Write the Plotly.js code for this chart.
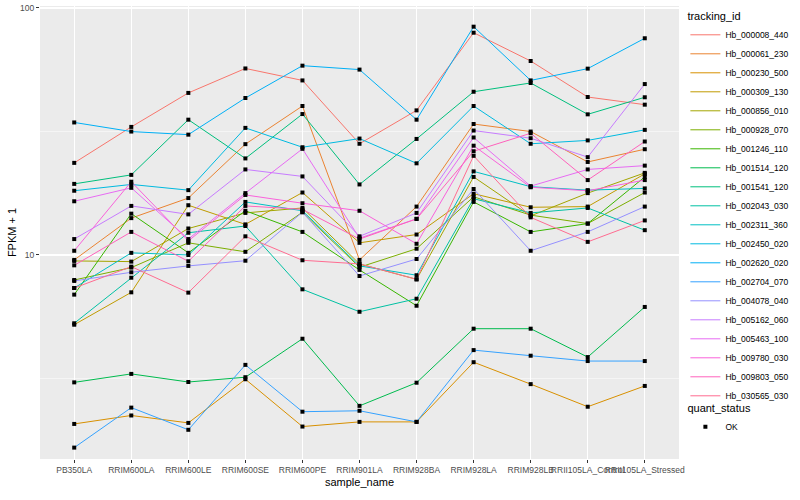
<!DOCTYPE html>
<html><head><meta charset="utf-8">
<script src="https://cdn.plot.ly/plotly-3.0.1.min.js"></script>
<style>body{margin:0;background:#fff}#chart{width:800px;height:500px}</style>
</head><body><div id="chart"></div>
<script>
const sampleNames = ["PB350LA","RRIM600LA","RRIM600LE","RRIM600SE","RRIM600PE","RRIM901LA","RRIM928BA","RRIM928LA","RRIM928LB","RRII105LA_Control","RRII105LA_Stressed"];

const Hb_000008_440 = [23.6, 33.0, 45.3, 56.9, 50.9, 28.2, 38.5, 79.4, 61.0, 43.6, 40.6];
const Hb_000061_230 = [9.55, 14.1, 17.0, 28.1, 40.1, 9.55, 15.7, 33.9, 31.6, 23.8, 26.8];
const Hb_000230_500 = [2.07, 2.24, 2.09, 3.14, 2.02, 2.11, 2.11, 3.68, 3.00, 2.43, 2.95];
const Hb_000309_130 = [5.22, 7.06, 15.9, 13.3, 17.9, 11.2, 12.1, 17.7, 15.6, 15.7, 21.3];
const Hb_000856_010 = [9.46, 9.40, 12.8, 14.8, 15.5, 9.20, 7.97, 20.7, 14.4, 17.8, 21.5];
const Hb_000928_070 = [7.92, 8.89, 11.2, 10.3, 14.9, 8.92, 10.6, 17.2, 14.5, 13.4, 17.9];
const Hb_001246_110 = [6.91, 14.7, 10.2, 15.1, 12.4, 8.7, 6.23, 16.4, 12.4, 13.4, 20.7];
const Hb_001514_120 = [3.05, 3.30, 3.06, 3.20, 4.58, 2.45, 3.04, 5.03, 5.03, 3.86, 6.16];
const Hb_001541_120 = [19.4, 21.1, 35.3, 24.6, 37.2, 19.3, 29.5, 45.8, 49.7, 37.1, 43.5];
const Hb_002043_030 = [5.29, 8.09, 12.3, 13.1, 7.26, 5.89, 6.65, 16.9, 14.8, 15.5, 12.6];
const Hb_002311_360 = [7.35, 10.2, 10.0, 16.4, 15.1, 9.03, 8.28, 21.8, 18.9, 18.3, 18.6];
const Hb_002450_020 = [18.2, 19.3, 18.3, 32.7, 27.3, 29.6, 23.5, 40.1, 28.2, 29.1, 32.1];
const Hb_002620_020 = [34.4, 31.6, 30.7, 43.2, 58.4, 56.3, 35.3, 84.0, 50.9, 56.8, 75.4];
const Hb_002704_070 = [1.66, 2.41, 1.96, 3.59, 2.32, 2.34, 2.11, 4.12, 3.91, 3.72, 3.72];
const Hb_004078_040 = [7.85, 8.51, 9.03, 9.48, 14.9, 8.22, 9.63, 18.5, 10.4, 12.4, 15.7];
const Hb_005162_060 = [11.6, 15.8, 14.6, 22.2, 20.8, 11.9, 14.8, 31.9, 29.7, 24.9, 49.2];
const Hb_005463_100 = [16.5, 18.7, 11.6, 17.8, 26.9, 11.7, 14.0, 29.9, 19.0, 22.2, 23.0];
const Hb_009780_030 = [10.4, 19.8, 11.4, 17.5, 16.2, 15.1, 11.1, 27.7, 18.8, 18.2, 20.1];
const Hb_009803_050 = [9.08, 12.4, 9.43, 15.8, 15.3, 11.6, 14.0, 26.3, 31.1, 20.1, 28.8];
const Hb_030565_030 = [7.35, 8.97, 7.04, 11.9, 9.52, 9.20, 7.97, 25.2, 14.2, 11.3, 13.8];

const trackingIds = ["Hb_000008_440","Hb_000061_230","Hb_000230_500","Hb_000309_130","Hb_000856_010","Hb_000928_070","Hb_001246_110","Hb_001514_120","Hb_001541_120","Hb_002043_030","Hb_002311_360","Hb_002450_020","Hb_002620_020","Hb_002704_070","Hb_004078_040","Hb_005162_060","Hb_005463_100","Hb_009780_030","Hb_009803_050","Hb_030565_030"];
const seriesValues = [Hb_000008_440,Hb_000061_230,Hb_000230_500,Hb_000309_130,Hb_000856_010,Hb_000928_070,Hb_001246_110,Hb_001514_120,Hb_001541_120,Hb_002043_030,Hb_002311_360,Hb_002450_020,Hb_002620_020,Hb_002704_070,Hb_004078_040,Hb_005162_060,Hb_005463_100,Hb_009780_030,Hb_009803_050,Hb_030565_030];
const seriesColors = ["#F8766D","#EA8331","#D89000","#C09B00","#A3A500","#7CAE00","#39B600","#00BB4E","#00BF7D","#00C1A3","#00BFC4","#00BAE0","#00B0F6","#35A2FF","#9590FF","#C77CFF","#E76BF3","#FA62DB","#FF62BC","#FF6C91"];
const yTickVals = [1, 10, 100];
const yTickText = ["1", "10", "100"];
const yMinorVals = [3.1623, 31.623];
const statusLabel = "OK";

const traces = trackingIds.map((id, i) => ({
  type: 'scatter', mode: 'lines', name: id,
  x: sampleNames, y: seriesValues[i],
  line: {color: seriesColors[i], width: 1},
  legend: 'legend', hoverinfo: 'name+y'
}));
const mx = [], my = [];
seriesValues.forEach(vals => vals.forEach((v, j) => { mx.push(sampleNames[j]); my.push(v); }));
traces.push({
  type: 'scatter', mode: 'markers', name: statusLabel, x: mx, y: my,
  marker: {symbol: 'square', size: 4, color: '#000'},
  legend: 'legend2'
});

const font = {family: 'Liberation Sans, Arial, sans-serif'};
const layout = {
  width: 800, height: 500,
  margin: {l: 40, r: 116, t: 6, b: 41},
  paper_bgcolor: '#fff', plot_bgcolor: '#EBEBEB',
  font: {family: font.family, color: '#000'},
  xaxis: {
    type: 'category', range: [-0.6, 10.6], tickangle: 0,
    showgrid: true, gridcolor: '#fff', gridwidth: 1.1,
    ticks: 'outside', ticklen: 3, tickcolor: '#333', tickwidth: 1,
    tickfont: {size: 8.5, color: '#4D4D4D'}, zeroline: false, showline: false,
    title: {text: 'sample_name', font: {size: 11}, standoff: 4}
  },
  yaxis: {
    type: 'log', range: [0.174, 2.008],
    tickvals: yTickVals, ticktext: yTickText,
    showgrid: true, gridcolor: '#fff', gridwidth: 1.1,
    minor: {tickvals: yMinorVals, showgrid: true, gridcolor: '#fff', gridwidth: 0.5, ticks: ''},
    ticks: 'outside', ticklen: 3, tickcolor: '#333', tickwidth: 1,
    tickfont: {size: 8.5, color: '#4D4D4D'}, zeroline: false, showline: false,
    title: {text: 'FPKM + 1', font: {size: 11}, standoff: 1}
  },
  legend: {
    x: 1.01, xanchor: 'left', y: 1.0, yanchor: 'top',
    title: {text: 'tracking_id', font: {size: 11}},
    font: {size: 8.5}, itemwidth: 30, bgcolor: 'rgba(0,0,0,0)', tracegroupgap: 0
  },
  legend2: {
    x: 1.01, xanchor: 'left', y: 0.135, yanchor: 'top',
    title: {text: 'quant_status', font: {size: 11}},
    font: {size: 8.5}, itemwidth: 30, bgcolor: 'rgba(0,0,0,0)'
  },
  showlegend: true
};
Plotly.newPlot('chart', traces, layout, {displayModeBar: false, staticPlot: true});
</script>
</body></html>
